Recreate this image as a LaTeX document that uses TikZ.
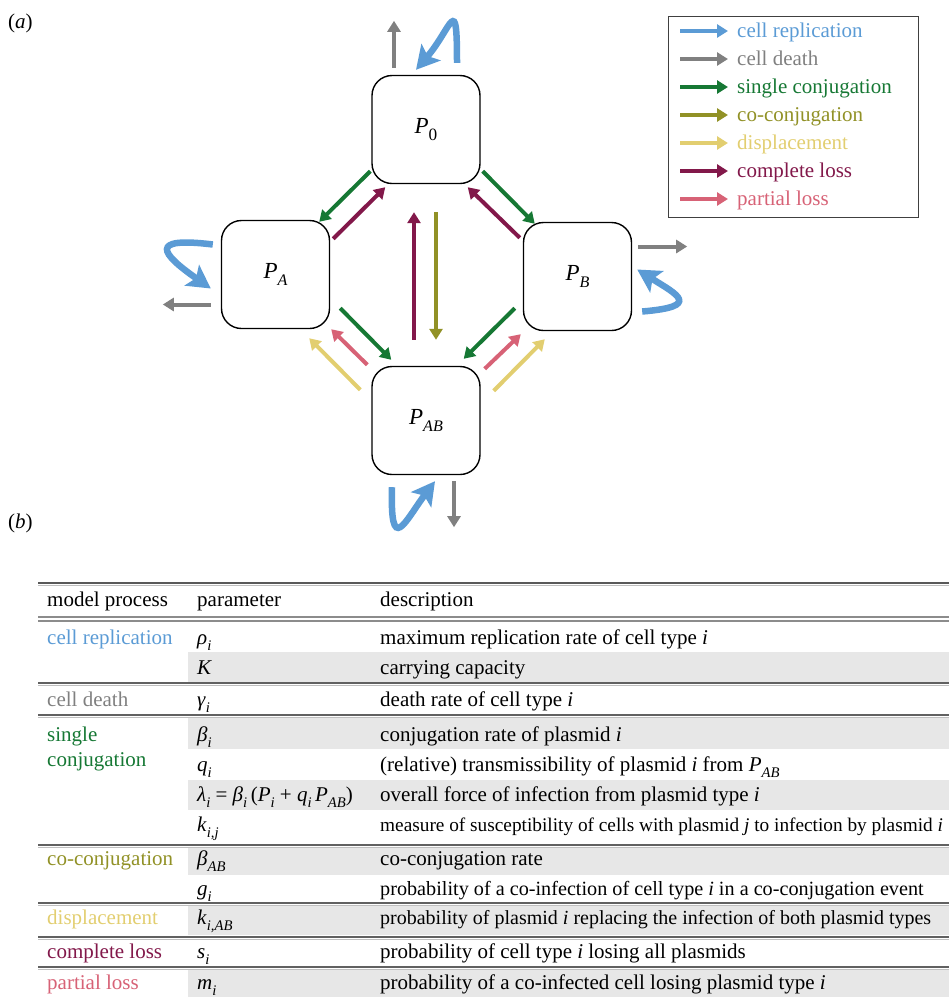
\documentclass[tikz,border=0pt]{standalone}
\usepackage{fontspec}
\setmainfont{Liberation Serif}
\usetikzlibrary{positioning, arrows.meta, calc}

\definecolor{repl}{RGB}{91,155,213}
\definecolor{death}{RGB}{128,128,128}
\definecolor{sconj}{RGB}{22,120,52}
\definecolor{coconj}{RGB}{145,145,38}
\definecolor{displ}{RGB}{226,206,112}
\definecolor{closs}{RGB}{130,24,74}
\definecolor{ploss}{RGB}{215,98,118}
\definecolor{rowgray}{RGB}{231,231,231}

\newcommand{\ix}[1]{\raisebox{-0.3em}{\scalebox{0.7}{\itshape #1}}}
\newcommand{\ux}[1]{\raisebox{-0.3em}{\scalebox{0.75}{#1}}}

\begin{document}
\begin{tikzpicture}[x=1pt, y=-1pt,
  every node/.style={font=\fontsize{21}{25}\selectfont},
  popbox/.style={draw, line width=1.4pt, rounded corners=20pt, minimum width=108pt,
    minimum height=108pt, inner sep=0pt, font=\fontsize{23}{26}\selectfont},
  flow/.style={line width=4pt, -{Triangle[length=11pt, width=13pt]}},
  replarrow/.style={draw=repl, line width=6.5pt, -{Stealth[length=23pt, width=25pt, inset=5pt]}},
  die/.style={flow, death},
  txt/.style={anchor=base west, inner sep=0pt}]
  \useasboundingbox (0,0) rectangle (949,997);

  \node[txt] (tagA) at (8,28) {(\textit{a})};
  \node[txt] (tagB) at (8,528) {(\textit{b})};

  \node[popbox] (P0)  at (426,129.5) {\textit{P}\ux{0}};
  \node[popbox] (PA)  at (275.5,274.5) {\textit{P}\ix{A}};
  \node[popbox] (PB)  at (577.5,276.5) {\textit{P}\ix{B}};
  \node[popbox] (PAB) at (426,420.5) {\textit{P}\ix{AB}};

  \draw[flow, sconj]  ([shift={(-1,-13)}]P0.south west) -- ([shift={(-11,2)}]PA.north east);
  \draw[flow, closs]  ([shift={(3,19)}]PA.north east) -- ([shift={(14,3)}]P0.south west);
  \draw[flow, sconj]  ([shift={(2,-13)}]P0.south east) -- ([shift={(12,2)}]PB.north west);
  \draw[flow, closs]  ([shift={(-3,16)}]PB.north west) -- ([shift={(-13,3)}]P0.south east);
  \draw[flow, closs]  ([shift={(-12,-26)}]PAB.north) -- ([shift={(-12,28)}]P0.south);
  \draw[flow, coconj] ([shift={(10,28)}]P0.south) -- ([shift={(10,-26)}]PAB.north);
  \draw[flow, sconj]  ([shift={(10,-21)}]PA.south east) -- ([shift={(20,-6)}]PAB.north west);
  \draw[flow, ploss]  ([shift={(-4,-1)}]PAB.north west) -- ([shift={(1,0)}]PA.south east);
  \draw[flow, displ]  ([shift={(-11,24)}]PAB.north west) -- ([shift={(-21,9)}]PA.south east);
  \draw[flow, sconj]  ([shift={(-8,-23)}]PB.south west) -- ([shift={(-17,-7)}]PAB.north east);
  \draw[flow, ploss]  ([shift={(4,3)}]PAB.north east) -- ([shift={(-2,3)}]PB.south west);
  \draw[flow, displ]  ([shift={(13,25)}]PAB.north east) -- ([shift={(22,8)}]PB.south west);

  \coordinate (out0)  at ([shift={(-32,-54)}]P0.north);
  \coordinate (outA)  at ([shift={(-58,30)}]PA.west);
  \coordinate (outB)  at ([shift={(55,-30)}]PB.east);
  \coordinate (outAB) at ([shift={(28,52)}]PAB.south);
  \draw[die] ([shift={(-32,-7)}]P0.north) -- (out0);
  \draw[die] ([shift={(-10,30)}]PA.west) -- (outA);
  \draw[die] ([shift={(6,-30)}]PB.east) -- (outB);
  \draw[die] ([shift={(28,6)}]PAB.south) -- (outAB);

  \draw[replarrow] ([shift={(31,-12)}]P0.north) .. controls +(0,-72) and +(36,-42) .. ([shift={(-10,-5)}]P0.north);
  \draw[replarrow] ([shift={(-8,-30)}]PA.west) .. controls +(-65,-8) and +(-50,-35) .. ([shift={(-10,14)}]PA.west);
  \draw[replarrow] ([shift={(10,35)}]PB.east) .. controls +(60,-5) and +(40,25) .. ([shift={(5,-7)}]PB.east);
  \draw[replarrow] ([shift={(-34,12)}]PAB.south) .. controls +(-2,70) and +(-30,40) .. ([shift={(9,6)}]PAB.south);

  \node[draw=black!75, line width=1pt, minimum width=250pt, minimum height=201pt, inner sep=0pt] (legend) at (793,117) {};
  \foreach \col/\lab [count=\idx] in {repl/cell replication, death/cell death, sconj/single conjugation,
      coconj/co-conjugation, displ/displacement, closs/complete loss, ploss/partial loss} {
    \node[txt, text=\col] (key\idx) at (737,9+28*\idx) {\lab};
    \draw[flow, \col] ([shift={(-57,-6)}]key\idx.base west) -- ([shift={(-9,-6)}]key\idx.base west);
  }

  % table
  \foreach \ya/\yb in {652/682, 718/749, 780/810, 847/875, 906/935, 970/997}
    \fill[rowgray] (188,\ya) rectangle (949,\yb);
  \draw[line width=2.4pt, black!65] (38,583) -- (949,583);
  \draw[line width=1.2pt, black!25] (38,585.5) -- (949,585.5);
  \draw[line width=1.4pt, black!45] (38,617) -- (949,617);
  \draw[line width=1.4pt, black!45] (38,621) -- (949,621);
  \foreach \yr in {683, 715, 845, 903, 937, 967} {
    \draw[line width=2pt, black!62] (38,\yr) -- (949,\yr);
    \draw[line width=1.2pt, black!25] (38,\yr+2.2) -- (949,\yr+2.2);
  }

  \node[txt] (hd1) at (47,606) {model process};
  \node[txt] (hd2) at (197,606) {parameter};
  \node[txt] (hd3) at (380,606) {description};

  \node[txt, text=repl]   (pr1) at (47,644) {cell replication};
  \node[txt, text=death]  (pr2) at (47,706) {cell death};
  \node[txt, text=sconj]  (pr3) at (47,741) {single};
  \node[txt, text=sconj]  (pr4) at (47,766) {conjugation};
  \node[txt, text=coconj] (pr5) at (47,865) {co-conjugation};
  \node[txt, text=displ]  (pr6) at (47,924) {displacement};
  \node[txt, text=closs]  (pr7) at (47,958) {complete loss};
  \node[txt, text=ploss]  (pr8) at (47,989) {partial loss};

  \foreach \yb/\prm/\dsc [count=\rw] in {
      644/{\textit{ρ}\ix{i}}/{maximum replication rate of cell type \textit{i}},
      674/{\textit{K}}/{carrying capacity},
      706/{\textit{γ}\ix{i}}/{death rate of cell type \textit{i}},
      741/{\textit{β}\ix{i}}/{conjugation rate of plasmid \textit{i}},
      771/{\textit{q}\ix{i}}/{(relative) transmissibility of plasmid \textit{i} from \textit{P}\ix{AB}},
      801/{\textit{λ}\ix{i} = \textit{β}\ix{i}\,(\textit{P}\ix{i} + \textit{q}\ix{i}\,\textit{P}\ix{AB})}/{overall force of infection from plasmid type \textit{i}},
      831/{\textit{k}\ix{i,j}}/{{\fontsize{19.3}{22}\selectfont measure of susceptibility of cells with plasmid \textit{j} to infection by plasmid \textit{i}}},
      865/{\textit{β}\ix{AB}}/{co-conjugation rate},
      895/{\textit{g}\ix{i}}/{{\fontsize{20.2}{24}\selectfont probability of a co-infection of cell type \textit{i} in a co-conjugation event}},
      924/{\textit{k}\ix{i,AB}}/{{\fontsize{20}{24}\selectfont probability of plasmid \textit{i} replacing the infection of both plasmid types}},
      958/{\textit{s}\ix{i}}/{probability of cell type \textit{i} losing all plasmids},
      989/{\textit{m}\ix{i}}/{probability of a co-infected cell losing plasmid type \textit{i}}} {
    \node[txt] (pm\rw) at (197,\yb) {\prm};
    \node[txt] (ds\rw) at (380,\yb) {\dsc};
  }
\end{tikzpicture}
\end{document}
